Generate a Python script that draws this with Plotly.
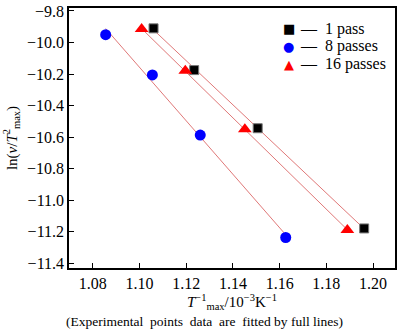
import numpy as np
import plotly.graph_objects as go

# Kissinger data: inverse peak temperature (10^-3 K^-1) vs ln(v/Tmax^2)
x_1pass = [1.106, 1.1234, 1.1506, 1.1962]
y_1pass = [-9.91, -10.175, -10.544, -11.18]

x_8pass = [1.0855, 1.1055, 1.126, 1.1626]
y_8pass = [-9.95, -10.206, -10.5875, -11.2375]

x_16pass = [1.1009, 1.1196, 1.1451, 1.189]
y_16pass = [-9.915, -10.18, -10.55, -11.19]

x_ticks = [1.08, 1.10, 1.12, 1.14, 1.16, 1.18, 1.20]
y_ticks = [-11.4, -11.2, -11.0, -10.8, -10.6, -10.4, -10.2, -10.0, -9.8]

series = [
    ("1 pass", x_1pass, y_1pass, "■", "black",
     dict(symbol="square", size=9, color="black", line=dict(color="#777777", width=1))),
    ("8 passes", x_8pass, y_8pass, "●", "#0000ff",
     dict(symbol="circle", size=11, color="#0000ff", line=dict(width=0))),
    ("16 passes", x_16pass, y_16pass, "▲", "#ff0000",
     dict(symbol="triangle-up", size=12, color="#ff0000", line=dict(width=0))),
]

FONT = "Liberation Serif"
fig = go.Figure()

# fitted straight lines, spanning each data set
for name, xs, ys, glyph, col, mk in series:
    k, b = np.polyfit(xs, ys, 1)
    xf = np.array([min(xs), max(xs)])
    fig.add_trace(go.Scatter(x=xf, y=k * xf + b, mode="lines",
                             line=dict(color="#e07878", width=1),
                             showlegend=False, hoverinfo="skip"))

for name, xs, ys, glyph, col, mk in series:
    fig.add_trace(go.Scatter(x=xs, y=ys, mode="markers", marker=mk,
                             name=name, showlegend=False))

# key in the upper-right corner: symbol, dash, label
key_rows = [0.920, 0.852, 0.784]
for (name, xs, ys, glyph, col, mk), yk in zip(series, key_rows):
    fig.add_annotation(text=glyph, xref="paper", yref="paper",
                       x=(290 - 69) / 328, y=yk, xanchor="center", yanchor="middle",
                       showarrow=False, font=dict(family="DejaVu Sans", size=13, color=col))
    fig.add_annotation(text="—  " + name, xref="paper", yref="paper",
                       x=(299 - 69) / 328, y=yk, xanchor="left", yanchor="middle",
                       showarrow=False, font=dict(family=FONT, size=16, color="black"))

fig.update_layout(
    width=400, height=333,
    margin=dict(l=69, r=3, t=4, b=65),
    paper_bgcolor="white", plot_bgcolor="white",
    font=dict(family=FONT, size=16, color="black"),
    showlegend=False,
    xaxis=dict(range=[1.0698, 1.2094], tickvals=x_ticks,
               tickformat=".2f", ticks="inside", ticklen=5, tickcolor="black",
               showline=True, linecolor="black", linewidth=1.5, mirror=True,
               showgrid=False, zeroline=False, ticklabeloverflow="allow",
               tickfont=dict(family=FONT, size=16),
               title=dict(text="<i>T</i><sup>−1</sup><sub>max</sub>/10<sup>−3</sup>K<sup>−1</sup>",
                          font=dict(family=FONT, size=15), standoff=4)),
    yaxis=dict(range=[-11.431, -9.781], tickvals=y_ticks,
               tickformat=".1f", ticks="inside", ticklen=5, tickcolor="black",
               showline=True, linecolor="black", linewidth=1.5, mirror=True,
               showgrid=False, zeroline=False, ticklabeloverflow="allow",
               tickfont=dict(family=FONT, size=16),
               title=dict(text="ln(<i>v</i>/<i>T</i><sup>2</sup><sub>max</sub>)",
                          font=dict(family=FONT, size=15), standoff=6)),
)

fig.add_annotation(text="(Experimental  points  data  are  fitted by full lines)",
                   xref="paper", yref="paper", x=(205 - 69) / 328, y=-(322 - 268) / 264,
                   xanchor="center", yanchor="middle", showarrow=False,
                   font=dict(family=FONT, size=13.5))

fig.write_html("out.html")
